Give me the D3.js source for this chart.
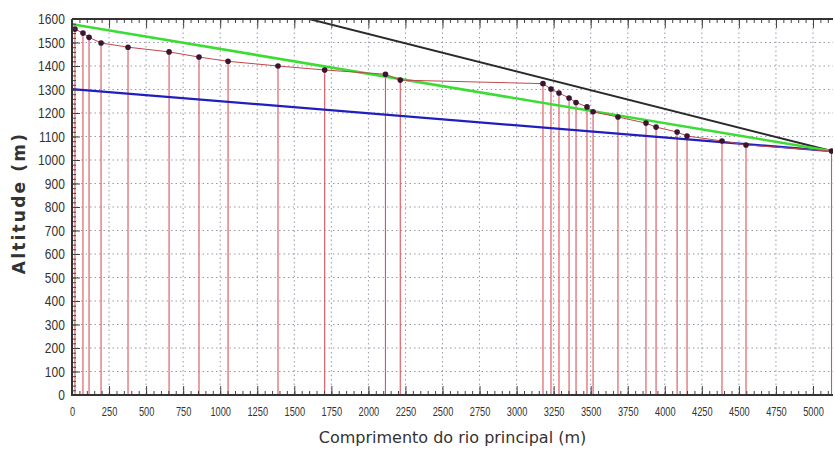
<!DOCTYPE html>
<html>
<head>
<meta charset="utf-8">
<script src="https://cdn.jsdelivr.net/npm/d3@7"></script>
<style>
  body { margin: 0; background: #fff; }
  svg { display: block; font-family: "DejaVu Sans", sans-serif; }
</style>
</head>
<body>
<svg id="chart" width="835" height="450"></svg>
<script>
// distance along the main river (m) and altitude (m) of each surveyed point
const distances = [20, 74, 115, 196, 378, 655, 857, 1053, 1390, 1705, 2115, 2215,
  3178, 3232, 3286, 3354, 3401, 3475, 3516, 3684, 3873, 3941, 4083, 4150, 4386, 4548, 5125];
const altitudes = [1557, 1540, 1522, 1498, 1480, 1460, 1438, 1420, 1400, 1383, 1365, 1340,
  1325, 1302, 1285, 1264, 1245, 1226, 1205, 1183, 1157, 1140, 1119, 1102, 1081, 1064, 1038];

// reference slope lines: [start, end] as [distance, altitude]
const greenLine = [[0, 1578], [5125, 1038]];
const blueLine = [[0, 1302], [5125, 1038]];
const blackLine = [[0, 1855], [5125, 1038]];

const xTicks = d3.range(0, 5001, 250);
const yTicks = d3.range(0, 1601, 100);

const margin = {top: 19, right: 2, bottom: 55, left: 72};
const width = 835 - margin.left - margin.right;
const height = 450 - margin.top - margin.bottom;

const points = distances.map((d, i) => ({dist: d, alt: altitudes[i]}));

const x = d3.scaleLinear().domain([0, 5135]).range([0, width]);
const y = d3.scaleLinear().domain([0, 1600]).range([height, 0]);

const svg = d3.select('#chart');
const g = svg.append('g')
    .attr('transform', `translate(${margin.left},${margin.top})`);

g.append('clipPath').attr('id', 'plot-clip')
  .append('rect').attr('width', width).attr('height', height);

// dotted grid
g.append('g')
  .selectAll('line')
  .data(yTicks.slice(1))
  .join('line')
    .attr('x1', 0).attr('x2', width)
    .attr('y1', d => y(d)).attr('y2', d => y(d))
    .attr('stroke', '#99a')
    .attr('stroke-dasharray', '1.5,3');

g.append('g')
  .selectAll('line')
  .data(xTicks.slice(1))
  .join('line')
    .attr('x1', d => x(d)).attr('x2', d => x(d))
    .attr('y1', 0).attr('y2', height)
    .attr('stroke', '#99a')
    .attr('stroke-dasharray', '1.5,3');

const plot = g.append('g').attr('clip-path', 'url(#plot-clip)');

// vertical drops from each point
plot.append('g')
  .selectAll('line')
  .data(points)
  .join('line')
    .attr('x1', d => x(d.dist)).attr('x2', d => x(d.dist))
    .attr('y1', d => y(d.alt)).attr('y2', height)
    .attr('stroke', '#d9535a')
    .attr('stroke-width', 1.1);

const line = d3.line().x(d => x(d[0])).y(d => y(d[1]));

plot.append('path')
    .datum(blackLine)
    .attr('d', line)
    .attr('fill', 'none')
    .attr('stroke', '#2a2a2a')
    .attr('stroke-width', 2);

plot.append('path')
    .datum(blueLine)
    .attr('d', line)
    .attr('fill', 'none')
    .attr('stroke', '#1f1fbf')
    .attr('stroke-width', 2.2);

plot.append('path')
    .datum(greenLine)
    .attr('d', line)
    .attr('fill', 'none')
    .attr('stroke', '#3ddc35')
    .attr('stroke-width', 2.6);

// river profile
plot.append('path')
    .datum(points.map(d => [d.dist, d.alt]))
    .attr('d', line)
    .attr('fill', 'none')
    .attr('stroke', '#c0474a')
    .attr('stroke-width', 1);

plot.append('g')
  .selectAll('circle')
  .data(points)
  .join('circle')
    .attr('cx', d => x(d.dist))
    .attr('cy', d => y(d.alt))
    .attr('r', 2.8)
    .attr('fill', '#3a1530');

// axes: ticks point inward, minor ticks without labels
const minorX = d3.range(0, 5136, 50);
const minorY = d3.range(0, 1601, 20);

g.append('g')
    .attr('transform', `translate(0,${height})`)
    .call(d3.axisBottom(x).tickValues(minorX).tickSize(-4).tickFormat(''))
    .call(a => a.select('.domain').remove());

g.append('g')
    .call(d3.axisTop(x).tickValues(minorX).tickSize(-4).tickFormat(''))
    .call(a => a.select('.domain').remove());

g.append('g')
    .call(d3.axisLeft(y).tickValues(minorY).tickSize(-4).tickFormat(''))
    .call(a => a.select('.domain').remove());

g.append('g')
    .call(d3.axisTop(x).tickValues(xTicks).tickSize(-9).tickFormat(''))
    .call(a => a.select('.domain').remove());

const xAxis = g.append('g')
    .attr('transform', `translate(0,${height})`)
    .call(d3.axisBottom(x).tickValues(xTicks).tickSize(-9).tickPadding(12).tickFormat(d3.format('d')))
    .call(a => a.select('.domain').remove());

xAxis.selectAll('text')
    .attr('font-size', 12.5)
    .attr('fill', '#333')
    .attr('transform', 'scale(0.74,1)');

const yAxis = g.append('g')
    .call(d3.axisLeft(y).tickValues(yTicks).tickSize(-8).tickPadding(9).tickFormat(d3.format('d')))
    .call(a => a.select('.domain').remove());

yAxis.selectAll('text')
    .attr('font-size', 15)
    .attr('fill', '#333')
    .attr('transform', 'scale(0.8,1)');

// frame
g.append('path')
    .attr('d', `M0,0H${width}M0,0V${height}H${width}`)
    .attr('fill', 'none')
    .attr('stroke', '#333')
    .attr('stroke-width', 2);

svg.selectAll('.tick line').attr('stroke', '#444');

svg.append('text')
    .attr('x', margin.left + width / 2)
    .attr('y', 443)
    .attr('text-anchor', 'middle')
    .attr('font-size', 16)
    .attr('fill', '#333')
    .text('Comprimento do rio principal (m)');

svg.append('text')
    .attr('transform', `translate(25,${margin.top + height / 2 - 4}) rotate(-90)`)
    .attr('text-anchor', 'middle')
    .attr('font-size', 17)
    .attr('font-weight', 'bold')
    .attr('letter-spacing', 2.2)
    .attr('fill', '#333')
    .text('Altitude (m)');
</script>
</body>
</html>
